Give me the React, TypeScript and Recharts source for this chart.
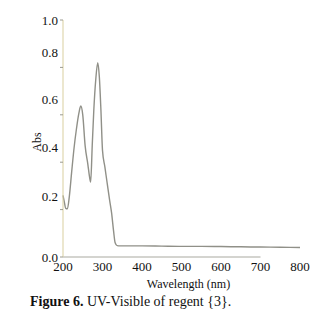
import React from "react";
import { LineChart, Line, XAxis, YAxis, ReferenceLine } from "recharts";

const wavelengths = [200, 203, 207, 211, 216, 222, 228, 234, 240, 245, 250, 256, 263, 267, 270, 274, 278, 283, 288, 292, 296, 300, 306, 312, 318, 323, 328, 332, 337, 345, 400, 450, 500, 550, 600, 650, 700, 750, 800];
const absorbance = [0.26, 0.235, 0.205, 0.203, 0.255, 0.36, 0.46, 0.54, 0.605, 0.637, 0.6, 0.47, 0.39, 0.34, 0.316, 0.47, 0.62, 0.75, 0.82, 0.76, 0.62, 0.45, 0.38, 0.31, 0.24, 0.186, 0.11, 0.06, 0.048, 0.047, 0.047, 0.046, 0.045, 0.045, 0.044, 0.043, 0.042, 0.041, 0.04];
const xTicks = [200, 300, 400, 500, 600, 700, 800];
const yTicks = [0, 0.2, 0.4, 0.6, 0.8, 1.0];
const xTitle = "Wavelength (nm)";
const yTitle = "Abs";

const data = wavelengths.map((wl, i) => ({ wl, abs: absorbance[i] }));

const FONT = '"Liberation Serif", "Times New Roman", serif';

const YTick = (props: any) => {
  const { x, y, payload } = props;
  const v = payload.value;
  const shift = v === 0 || v === 1 ? 0 : v === 0.2 ? -13 : -15;
  return (
    <text x={x} y={y + shift} textAnchor="end" dominantBaseline="central" fontSize={13} fontFamily={FONT} fill="#111">
      {v.toFixed(1)}
    </text>
  );
};

export default function App() {
  return (
    <div style={{ position: "relative", width: 320, height: 305, fontFamily: FONT, background: "#fff" }}>
      <LineChart width={320} height={290} data={data} margin={{ top: 12, right: 28, left: 15, bottom: 0 }}>
        <XAxis
          type="number"
          dataKey="wl"
          domain={[200, 800]}
          ticks={xTicks}
          axisLine={false}
          tickLine={false}
          tickSize={3}
          height={41}
          interval={0}
          tick={{ fill: "#111", fontSize: 13, fontFamily: FONT }}
          label={{ value: xTitle, position: "insideBottom", offset: 10, dx: 7, fill: "#111", fontSize: 12, fontFamily: FONT }}
        />
        <YAxis
          type="number"
          domain={[0, 1]}
          ticks={yTicks}
          width={40}
          tickSize={3}
          interval={0}
          axisLine={{ stroke: "#d9cf9f" }}
          tickLine={{ stroke: "#9a9a90" }}
          tick={<YTick />}
          label={{
            content: () => (
              <text x={29} y={134} transform="rotate(-90, 29, 134)" textAnchor="middle" dominantBaseline="central" fontSize={12} fontFamily={FONT} fill="#111">
                {yTitle}
              </text>
            ),
          }}
        />
        <ReferenceLine segment={[{ x: 200, y: 0 }, { x: 700, y: 0 }]} stroke="#a9a9a0" strokeWidth={1} />
        <Line type="monotone" dataKey="abs" stroke="#909088" strokeWidth={1.4} dot={false} isAnimationActive={false} />
      </LineChart>
      <div style={{ position: "absolute", left: 22, top: 286, fontSize: 14, lineHeight: "16px", color: "#111", whiteSpace: "nowrap" }}>
        <b>Figure 6.</b> UV-Visible of regent {"{3}"}.
      </div>
    </div>
  );
}
